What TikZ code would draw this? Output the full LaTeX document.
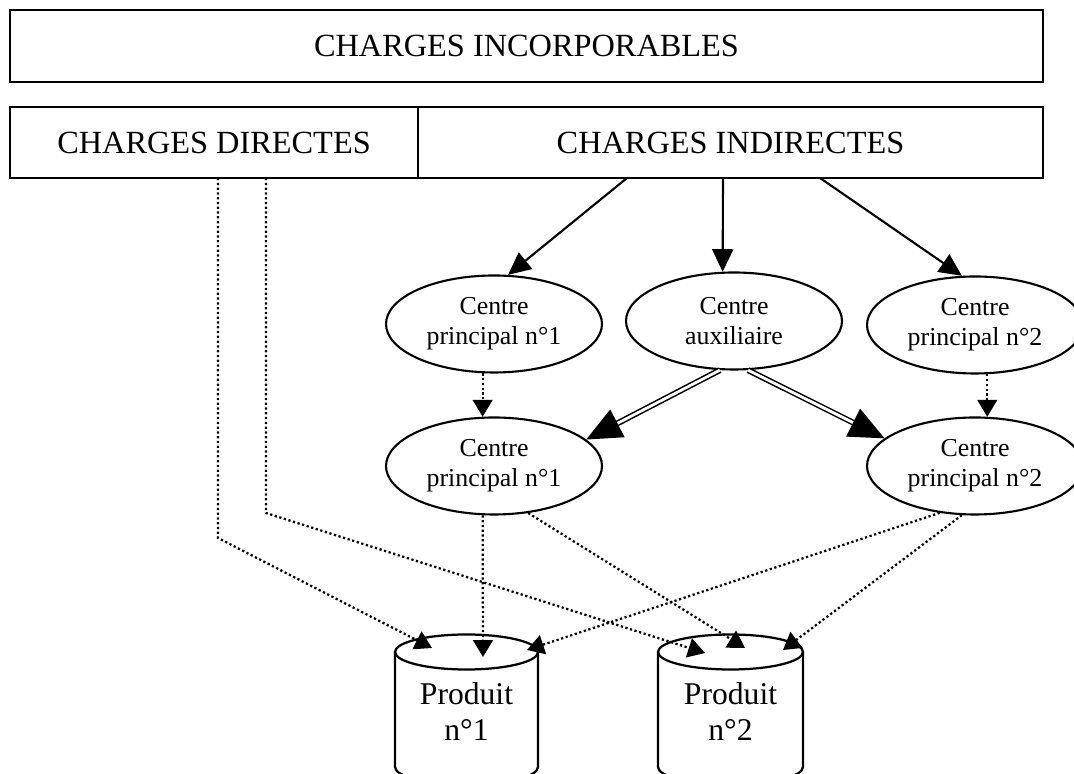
\documentclass[tikz,border=0pt]{standalone}
\usepackage{fontspec}
\setmainfont{Liberation Serif}
\usetikzlibrary{arrows.meta,shapes,positioning,calc}

\tikzset{
	charge/.style={draw=black,line width=1.6pt,inner sep=0pt,font=\fontsize{23}{27}\selectfont},
	centre/.style={shape=ellipse,draw=black,line width=1.5pt,minimum width=5.4cm,minimum height=2.425cm,inner sep=0pt,align=center,font=\fontsize{18.4}{21.3}\selectfont},
	produit/.style={align=center,font=\fontsize{22.5}{25.6}\selectfont},
	cuve/.style={draw=black,line width=1.6pt},
	plein/.style={draw,line width=1.5pt,-{Triangle[length=16pt,width=15pt]}},
	pointe/.style={draw,line width=1.6pt,dash pattern=on 1.6pt off 1.8pt,-{Triangle[length=12pt,width=14pt]}},
	dbl/.style={draw,double=white,double distance=2pt,line width=1.1pt,-{Triangle[length=25pt,width=22pt]}}
}

\begin{document}
\begin{tikzpicture}
	\useasboundingbox (0,0) rectangle (26.85,19.35);
	\node[charge,minimum width=25.825cm,minimum height=1.8cm](inc) at (13.1625,18.2) {CHARGES INCORPORABLES};
	\node[charge,minimum width=10.2cm,minimum height=1.775cm](dir) at (5.35,15.7875) {CHARGES DIRECTES};
	\node[charge,minimum width=15.625cm,minimum height=1.775cm](ind) at (18.2625,15.7875) {CHARGES INDIRECTES};
	\node[centre](p1a) at (12.35,11.25) {Centre\\principal n°1};
	\node[centre](aux) at (18.35,11.325) {Centre\\auxiliaire};
	\node[centre](p2a) at (24.375,11.225) {Centre\\principal n°2};
	\node[centre](p1b) at (12.35,7.7) {Centre\\principal n°1};
	\node[centre](p2b) at (24.375,7.7) {Centre\\principal n°2};
	% produits
	\draw[cuve] (9.875,3.05) -- (9.875,0.175) arc[start angle=180,end angle=360,x radius=1.7875,y radius=0.4375] -- (13.45,3.05);
	\draw[cuve] (11.6625,3.05) ellipse [x radius=1.7875,y radius=0.4375];
	\draw[cuve] (16.45,3.05) -- (16.45,0.175) arc[start angle=180,end angle=360,x radius=1.8125,y radius=0.4375] -- (20.075,3.05);
	\draw[cuve] (18.2625,3.05) ellipse [x radius=1.8125,y radius=0.4375];
	\node[produit](prod1) at (11.6625,1.55) {Produit\\n°1};
	\node[produit](prod2) at (18.2625,1.55) {Produit\\n°2};
	% points de depart et d'arrivee
	\coordinate (i1) at (15.675,14.9);
	\coordinate (i2) at (18.075,14.9);
	\coordinate (i3) at (20.5,14.9);
	\coordinate (d1) at (5.45,14.9);
	\coordinate (d1k) at (5.45,5.9);
	\coordinate (d2) at (6.65,14.9);
	\coordinate (d2k) at (6.65,6.525);
	\coordinate (in1a) at (10.8,3.15);
	\coordinate (in1b) at (12.075,2.925);
	\coordinate (in1c) at (13.175,3.1);
	\coordinate (in2a) at (17.625,3.025);
	\coordinate (in2b) at (18.625,3.15);
	\coordinate (in2c) at (19.575,3.1);
	\draw[plein] (i1) -- (p1a.74);
	\draw[plein] (i2) -- (aux.103);
	\draw[plein] (i3) -- (p2a.105);
	\draw[pointe] (p1a.257) -- (p1b.103);
	\draw[pointe] (p2a.284) -- (p2b.76);
	\draw[dbl] (aux.254) -- (p1b.16.5);
	\draw[dbl] (aux.286) -- (p2b.163.6);
	\draw[pointe] (d1) -- (d1k) -- (in1a);
	\draw[pointe] (d2) -- (d2k) -- (in2a);
	\draw[pointe] (p1b.257) -- (in1b);
	\draw[pointe] (p1b.306) -- (in2b);
	\draw[pointe] (p2b.233) -- (in1c);
	\draw[pointe] (p2b.255) -- (in2c);
\end{tikzpicture}
\end{document}
